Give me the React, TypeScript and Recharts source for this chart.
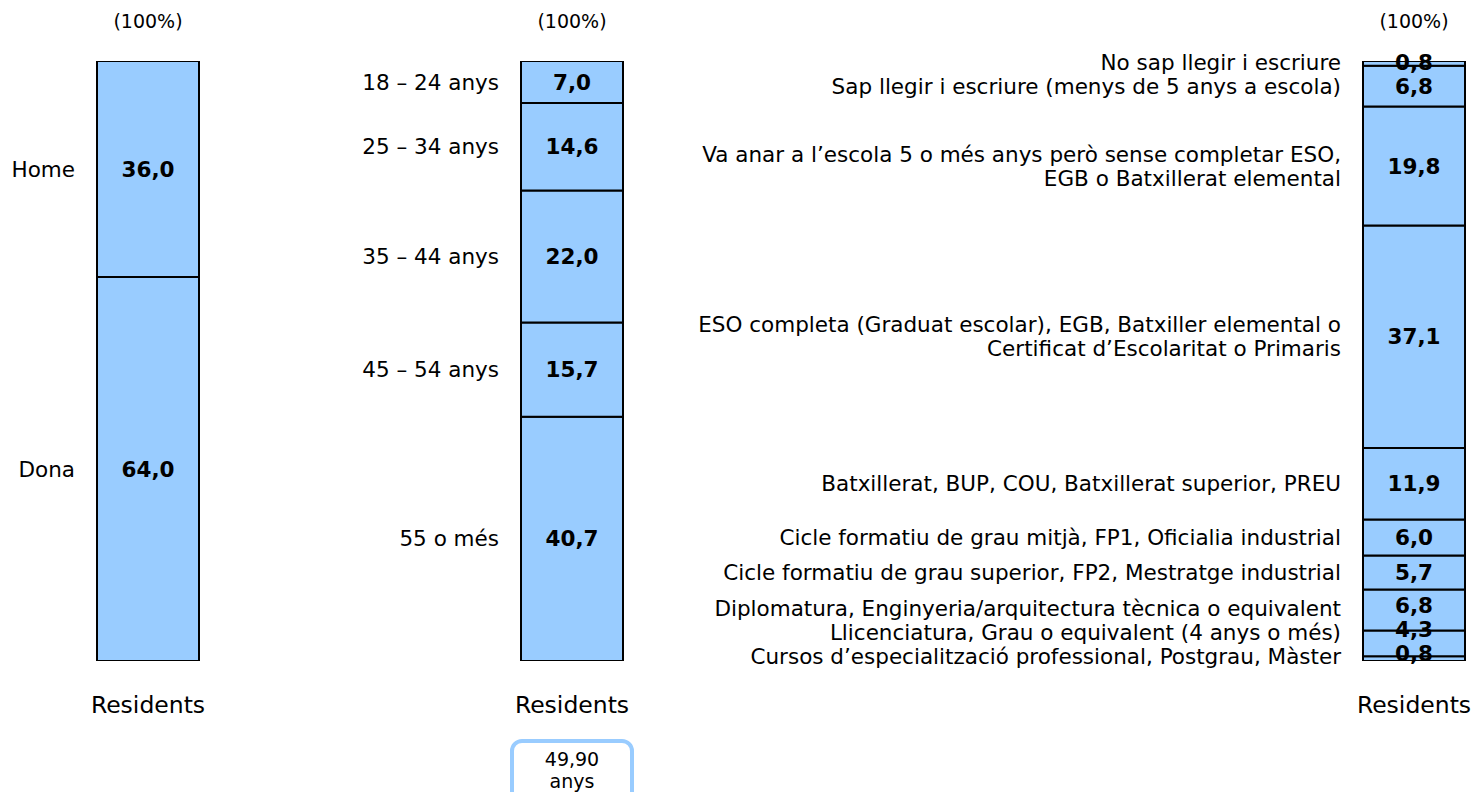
import { BarChart, Bar, XAxis, YAxis, LabelList } from 'recharts';

const FONT = '"DejaVu Sans", Verdana, sans-serif';
const FILL = '#99CCFF';

const groupName = 'Residents';
const totalText = '(100%)';
const meanAge = ['49,90', 'anys'];

const sexCats = [['Home'], ['Dona']];
const sexVals = [36.0, 64.0];

const ageCats = [['18 – 24 anys'], ['25 – 34 anys'], ['35 – 44 anys'], ['45 – 54 anys'], ['55 o més']];
const ageVals = [7.0, 14.6, 22.0, 15.7, 40.7];

const eduCats = [
  ['No sap llegir i escriure'],
  ['Sap llegir i escriure (menys de 5 anys a escola)'],
  ['Va anar a l’escola 5 o més anys però sense completar ESO,', 'EGB o Batxillerat elemental'],
  ['ESO completa (Graduat escolar), EGB, Batxiller elemental o', 'Certificat d’Escolaritat o Primaris'],
  ['Batxillerat, BUP, COU, Batxillerat superior, PREU'],
  ['Cicle formatiu de grau mitjà, FP1, Oficialia industrial'],
  ['Cicle formatiu de grau superior, FP2, Mestratge industrial'],
  ['Diplomatura, Enginyeria/arquitectura tècnica o equivalent'],
  ['Llicenciatura, Grau o equivalent (4 anys o més)'],
  ['Cursos d’especialització professional, Postgrau, Màster'],
];
const eduVals = [0.8, 6.8, 19.8, 37.1, 11.9, 6.0, 5.7, 6.8, 4.3, 0.8];

const fmt = (v: number) => v.toFixed(1).replace('.', ',');

// label centres in percent-from-top, pushed apart so small slices don't collide
function spread(vals: number[], gap: number, maxPos: number) {
  let acc = 0;
  const c = vals.map((v) => {
    const m = acc + v / 2;
    acc += v;
    return m;
  });
  c[c.length - 1] = Math.min(c[c.length - 1], maxPos);
  for (let i = c.length - 2; i >= 0; i--) c[i] = Math.min(c[i], c[i + 1] - gap);
  for (let i = 1; i < c.length; i++) c[i] = Math.max(c[i], c[i - 1] + gap);
  return c;
}

interface PanelProps {
  cats: string[][];
  vals: number[];
  left: number;
  width: number;
  plotLeft: number;
  gap: number;
  valueMax: number;
  catMax: number;
}

function Panel({ cats, vals, left, width, plotLeft, gap, valueMax, catMax }: PanelProps) {
  const row: Record<string, any> = { name: groupName };
  vals.forEach((v, i) => (row[`s${i}`] = v));
  const cum: number[] = [];
  vals.reduce((a, v, i) => ((cum[i] = a), a + v), 0);
  const valuePos = spread(vals, gap, valueMax);
  const catPos = spread(vals, gap, catMax);
  const order = vals.map((_, i) => i).reverse();

  const seg = (p: any, i: number) => {
    const vb = p.viewBox ?? p;
    const top = vb.height >= 0 ? vb.y : vb.y + vb.height;
    const k = Math.abs(vb.height) / vals[i];
    const cx = vb.x + vb.width / 2;
    const vy = top + (valuePos[i] - cum[i]) * k;
    const cy = top + (catPos[i] - cum[i]) * k;
    const lines = cats[i];
    return (
      <g>
        <text x={cx} y={vy} textAnchor="middle" dominantBaseline="central" fontFamily={FONT} fontSize={21.5} fontWeight="bold" fill="#000">
          {fmt(vals[i])}
        </text>
        {lines.map((l, j) => (
          <text key={j} x={vb.x - 22} y={cy + (j - (lines.length - 1) / 2) * 24} textAnchor="end" dominantBaseline="central" fontFamily={FONT} fontSize={21.5} fill="#000">
            {l}
          </text>
        ))}
      </g>
    );
  };

  const total = (p: any) => {
    const vb = p.viewBox ?? p;
    const top = vb.height >= 0 ? vb.y : vb.y + vb.height;
    return (
      <text x={vb.x + vb.width / 2} y={top - 40} textAnchor="middle" dominantBaseline="central" fontFamily={FONT} fontSize={19} fill="#000">
        {totalText}
      </text>
    );
  };

  return (
    <div style={{ position: 'absolute', left, top: 0 }}>
      <BarChart
        width={width}
        height={792}
        data={[row]}
        margin={{ top: 61, right: width - plotLeft - 102, bottom: 71, left: plotLeft }}
        barCategoryGap={0}
        style={{ overflow: 'visible' }}
      >
        <XAxis dataKey="name" height={60} axisLine={false} tickLine={false} tickMargin={29} tick={{ fontSize: 23.5, fill: '#000', fontFamily: FONT }} />
        <YAxis hide domain={[0, 100]} allowDataOverflow />
        {order.map((i) => (
          <Bar key={i} dataKey={`s${i}`} stackId="a" fill={FILL} stroke="#000" strokeWidth={2} isAnimationActive={false}>
            <LabelList dataKey={`s${i}`} content={(p: any) => seg(p, i)} />
            {i === 0 && <LabelList dataKey={`s${i}`} content={total} />}
          </Bar>
        ))}
      </BarChart>
    </div>
  );
}

export default function App() {
  return (
    <div style={{ position: 'fixed', left: 0, top: 0, width: 1476, height: 792, background: '#fff', fontFamily: FONT, overflow: 'hidden' }}>
      <Panel cats={sexCats} vals={sexVals} left={0} width={260} plotLeft={97} gap={0} valueMax={100} catMax={100} />
      <Panel cats={ageCats} vals={ageVals} left={300} width={380} plotLeft={221} gap={0} valueMax={100} catMax={100} />
      <Panel cats={eduCats} vals={eduVals} left={690} width={786} plotLeft={673} gap={4} valueMax={98.7} catMax={99.3} />
      <div
        style={{
          position: 'absolute', left: 510, top: 739, width: 124, height: 64, boxSizing: 'border-box',
          border: '4px solid #99CCFF', borderRadius: 12, textAlign: 'center', fontSize: 19, lineHeight: '22px', paddingTop: 5, color: '#000',
        }}
      >
        <div>{meanAge[0]}</div>
        <div>{meanAge[1]}</div>
      </div>
    </div>
  );
}
